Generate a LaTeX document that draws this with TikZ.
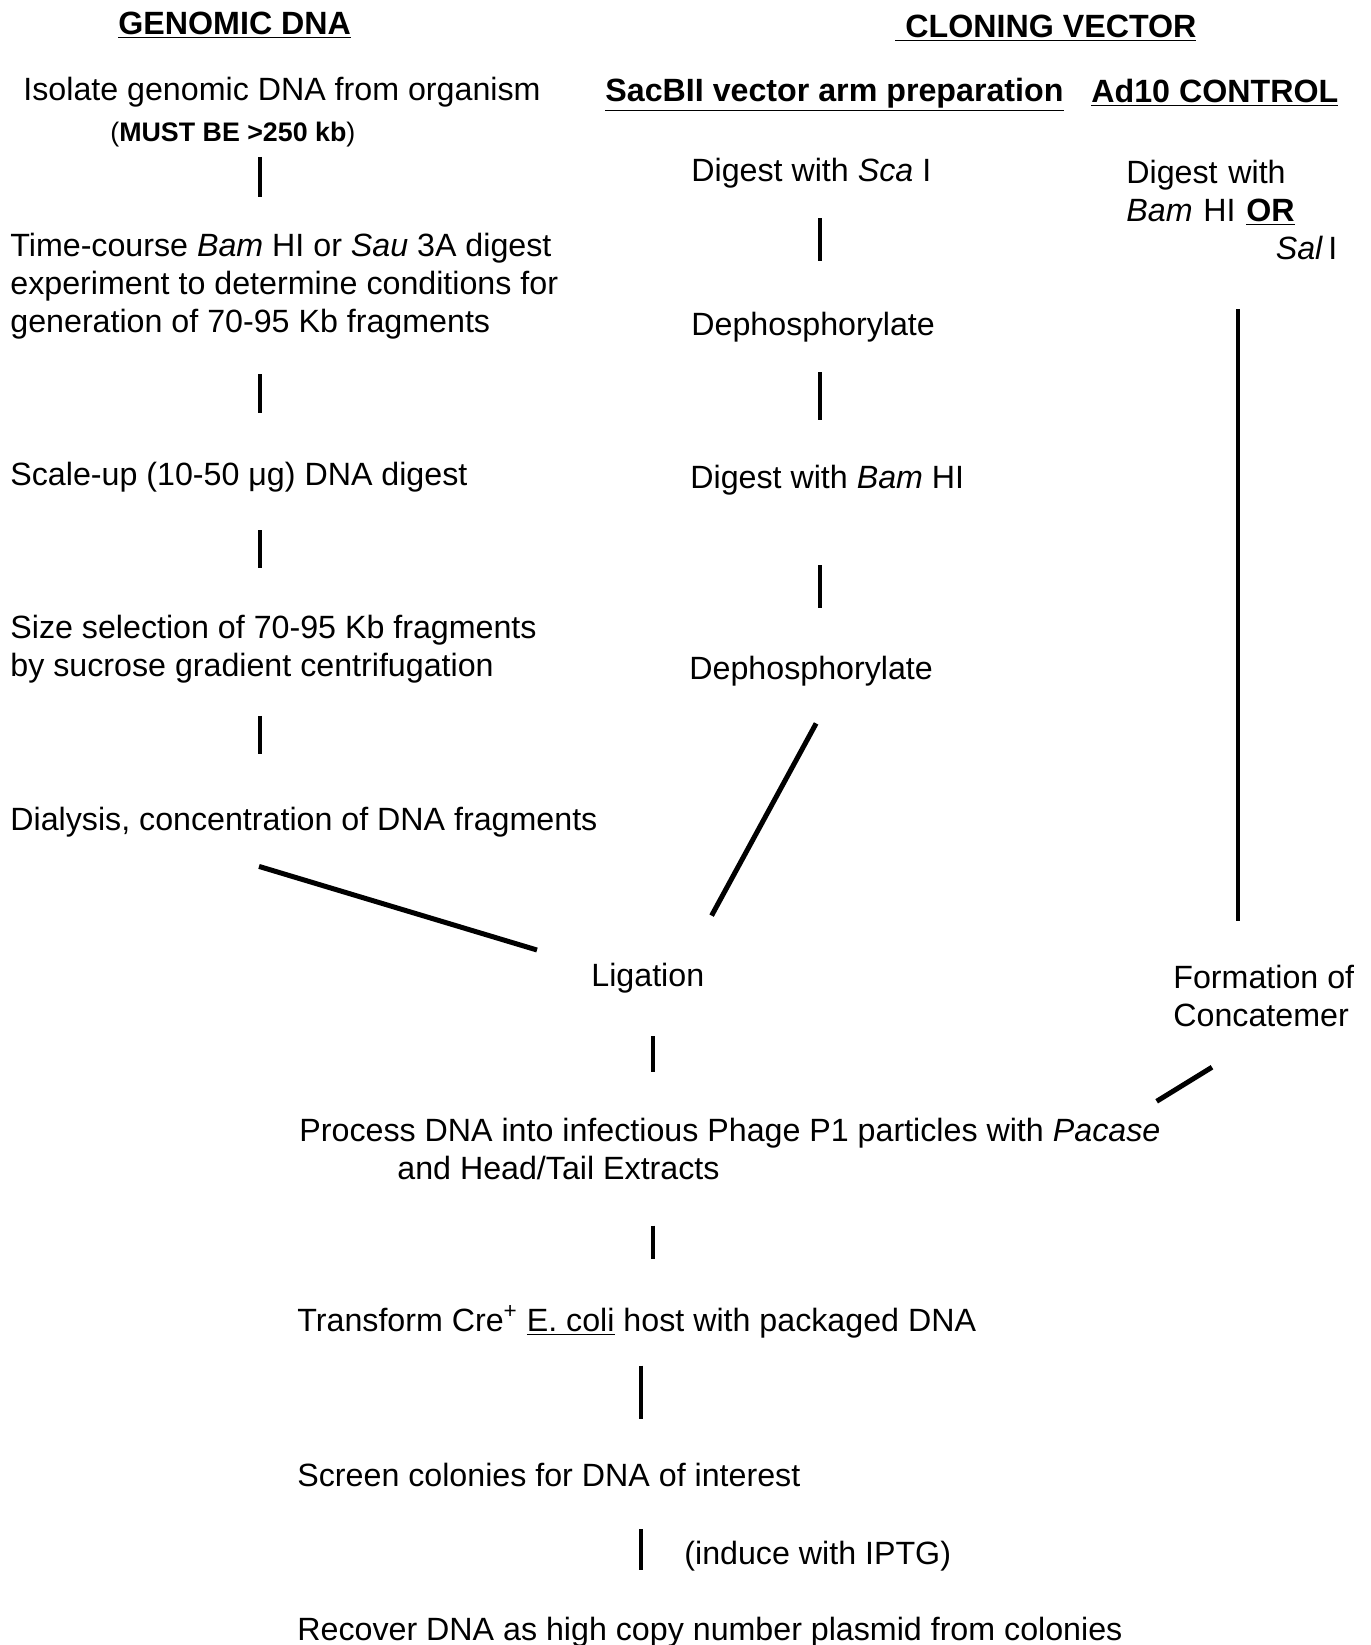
\documentclass[tikz,border=0pt]{standalone}
\usepackage{fontspec}
\setmainfont{Liberation Sans}
\usetikzlibrary{positioning, calc}
\tikzset{
  stepbox/.style={rectangle, inner sep=0pt, anchor=west, align=left, font=\fontsize{16.1pt}{19pt}\selectfont},
  headbox/.style={stepbox, font=\fontsize{16.1pt}{19pt}\selectfont\bfseries},
  notebox/.style={stepbox, font=\fontsize{13.4pt}{16pt}\selectfont},
  bar/.style={line width=2pt},
  link/.style={line width=2.5pt}
}
\begin{document}
\begin{tikzpicture}[x=0.5pt, y=-0.5pt]
\useasboundingbox (0,0) rectangle (1371,1645);

% column headings
\node (genhead) [headbox] at (118,25) {\underline{GENOMIC DNA}};
\node (vechead) [headbox] at (895,28) {\underline{\hspace{5pt}CLONING VECTOR}};
\node (sachead) [headbox] at (605,95) {\underline{SacBII vector arm preparation}};
\node (adhead) [headbox] at (1091,93) {\underline{Ad10 CONTROL}};

% genomic DNA column
\node (isolate) [stepbox] at (23,92) {Isolate genomic DNA from organism};
\node (mustbe) [notebox] at (110,135) {(\textbf{MUST BE >250 kb})};
\node (timecourse) [stepbox] at (10,286) {Time-course \textit{Bam} HI or \textit{Sau} 3A digest\\experiment to determine conditions for\\generation of 70-95 Kb fragments};
\node (scaleup) [stepbox] at (10,477) {Scale-up (10-50 μg) DNA digest};
\node (sizesel) [stepbox] at (10,649) {Size selection of 70-95 Kb fragments\\by sucrose gradient centrifugation};
\node (dialysis) [stepbox] at (10,822) {Dialysis, concentration of DNA fragments};

% SacBII vector arm column
\node (scai) [stepbox] at (691,173) {Digest with \textit{Sca} I};
\node (dephosa) [stepbox] at (691,327) {Dephosphorylate};
\node (bamhi) [stepbox] at (690,480) {Digest with \textit{Bam} HI};
\node (dephosb) [stepbox] at (689,671) {Dephosphorylate};

% Ad10 control column
\node (addigest) [stepbox, text width=105.5pt] at (1126,210) {Digest with\\\textit{Bam} HI \textbf{\underline{OR}}\\\hspace*{\fill}\textit{Sal}\,I};
\node (concat) [stepbox] at (1173,996) {Formation of\\Concatemer};

% common steps
\node (ligation) [stepbox] at (591,978) {Ligation};
\node (process) [stepbox] at (299,1149) {Process DNA into infectious Phage P1 particles with \textit{Pacase}\\\hspace*{49pt}and Head/Tail Extracts};
\node (transform) [stepbox] at (297,1322) {Transform Cre\textsuperscript{+} \underline{E. coli} host with packaged DNA};
\node (screen) [stepbox] at (297,1475) {Screen colonies for DNA of interest};
\node (recover) [stepbox] at (297,1632) {Recover DNA as high copy number plasmid from colonies};
\node (iptg) [stepbox] at (684,1556) {(induce with IPTG)};

% column lines
\coordinate (gencol) at (260,0);
\coordinate (saccol) at (820,0);
\coordinate (adcol) at (1238,0);
\coordinate (maincol) at (653,0);
\coordinate (lowcol) at (641,0);

\draw [bar, shorten <=4.5pt, shorten >=18pt] (mustbe.south -| gencol) -- (timecourse.north -| gencol);
\draw [bar, shorten <=17.5pt, shorten >=24.5pt] (timecourse.south -| gencol) -- (scaleup.north -| gencol);
\draw [bar, shorten <=19pt, shorten >=23.25pt] (scaleup.south -| gencol) -- (sizesel.north -| gencol);
\draw [bar, shorten <=16.25pt, shorten >=26.5pt] (sizesel.south -| gencol) -- (dialysis.north -| gencol);

\draw [bar, shorten <=15pt, shorten >=25.5pt] (scai.south -| saccol) -- (dephosa.north -| saccol);
\draw [bar, shorten <=15pt, shorten >=22.5pt] (dephosa.south -| saccol) -- (bamhi.north -| saccol);
\draw [bar, shorten <=35pt, shorten >=24pt] (bamhi.south -| saccol) -- (dephosb.north -| saccol);

\draw [bar, shorten <=24.5pt, shorten >=22pt] (addigest.south -| adcol) -- (concat.north -| adcol);

\draw [bar, shorten <=21.5pt, shorten >=22.75pt] (ligation.south -| maincol) -- (process.north -| maincol);
\draw [bar, shorten <=22.75pt, shorten >=23.5pt] (process.south -| maincol) -- (transform.north -| maincol);
\draw [bar, shorten <=13.5pt, shorten >=22pt] (transform.south -| lowcol) -- (screen.north -| lowcol);
\draw [bar, shorten <=21pt, shorten >=23.5pt] (screen.south -| lowcol) -- (recover.north -| lowcol);

% joining lines
\draw [link] ($(dialysis.south west)+(249,29)$) -- ($(ligation.west)+(-54,-28)$);
\draw [link] ($(dephosb.south)+(5,37)$) -- ($(ligation.north east)+(7,-47)$);
\draw [link] ($(concat.south west)+(39,40)$) -- ($(process.north east)+(-4,-16.5)$);
\end{tikzpicture}
\end{document}
